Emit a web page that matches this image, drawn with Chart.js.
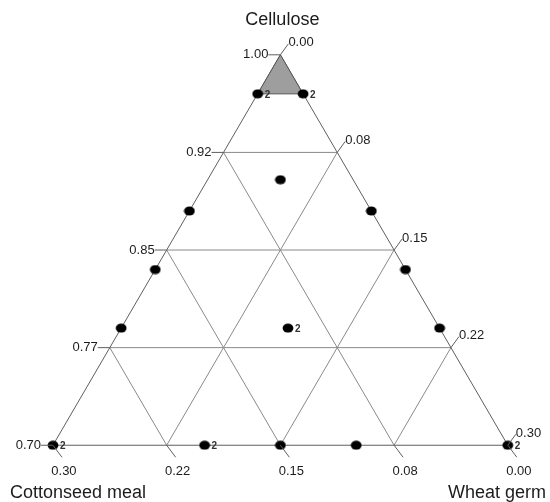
<!DOCTYPE html>
<html>
<head>
<meta charset="utf-8" />
<title>Mixture design</title>
<script src="https://cdn.jsdelivr.net/npm/chart.js"></script>
<style>body { margin: 0; background: #fff; }</style>
</head>
<body>
<canvas id="ternary" width="550" height="502"></canvas>
<script>
  // design points, as proportions of each component
  const cellulose  = [0.97, 0.97, 0.88, 0.835, 0.79, 0.88, 0.835, 0.79, 0.904, 0.79, 0.70, 0.70, 0.70, 0.70, 0.70];
  const cottonseed = [0.03, 0.00, 0.12, 0.165, 0.21, 0.00, 0.00, 0.00, 0.048, 0.10, 0.30, 0.20, 0.15, 0.10, 0.00];
  const wheatGerm  = [0.00, 0.03, 0.00, 0.00, 0.00, 0.12, 0.165, 0.21, 0.048, 0.11, 0.00, 0.10, 0.15, 0.20, 0.30];
  const replicates = [2, 2, 1, 1, 1, 1, 1, 1, 1, 2, 2, 2, 1, 1, 2];

  // shaded corner region
  const regionCell = [1.00, 0.97, 0.97];
  const regionMeal = [0.00, 0.03, 0.00];
  const regionGerm = [0.00, 0.00, 0.03];

  // grid levels and tick labels
  const cellLevels = [1.00, 0.925, 0.85, 0.775, 0.70];
  const cellTicks = ["1.00", "0.92", "0.85", "0.77", "0.70"];
  const germTicks = ["0.00", "0.08", "0.15", "0.22", "0.30"];
  const mealTicks = ["0.30", "0.22", "0.15", "0.08", "0.00"];
  const titles = ["Cellulose", "Cottonseed meal", "Wheat germ"];

  // pseudo-components (0.70..1.00 cellulose) -> plane
  function toXY(c, m, w) {
    const cp = (c - 0.70) / 0.30;
    const wp = w / 0.30;
    return { x: wp + cp / 2, y: cp };
  }

  const GRID = "#8a8a8a";
  const EDGE = "#5e5e5e";
  const INK = "#1c1c1c";

  const lineSet = (pts, color, order) => ({
    type: "line", data: pts, borderColor: color, borderWidth: 1,
    pointRadius: 0, fill: false, tension: 0, order: order,
  });

  const datasets = [];

  // design points
  const dot = document.createElement("canvas");
  dot.width = 12; dot.height = 10;
  const dctx = dot.getContext("2d");
  dctx.fillStyle = "#000";
  dctx.beginPath();
  dctx.ellipse(6, 5, 5.4, 4.5, 0, 0, Math.PI * 2);
  dctx.fill();

  datasets.push({
    type: "scatter",
    data: cellulose.map((c, i) => toXY(c, cottonseed[i], wheatGerm[i])),
    pointStyle: dot, pointRadius: 5, order: 0,
  });

  // shaded region
  const region = regionCell.map((c, i) => toXY(c, regionMeal[i], regionGerm[i]));
  region.push(region[0]);
  datasets.push({
    type: "line", data: region, borderColor: "#555", borderWidth: 1,
    backgroundColor: "#9e9e9e", fill: "shape", pointRadius: 0, order: 1,
  });

  // outer triangle
  datasets.push(lineSet([toXY(0.70, 0.30, 0), toXY(1, 0, 0), toXY(0.70, 0, 0.30), toXY(0.70, 0.30, 0)], EDGE, 2));

  // interior grid
  for (let i = 1; i < cellLevels.length - 1; i++) {
    const c = cellLevels[i];
    const lvl = (i / 4) * 0.30;
    datasets.push(lineSet([toXY(c, 1 - c, 0), toXY(c, 0, 1 - c)], GRID, 3));
    // constant cottonseed
    const m = 0.30 - lvl;
    datasets.push(lineSet([toXY(0.70, m, 0.30 - m), toXY(1 - m, m, 0)], GRID, 3));
    // constant wheat germ
    const w = lvl;
    datasets.push(lineSet([toXY(0.70, 0.30 - w, w), toXY(1 - w, 0, w)], GRID, 3));
  }

  const labels = {
    id: "labels",
    afterDatasetsDraw(chart) {
      const { ctx, scales } = chart;
      const px = (p) => [scales.x.getPixelForValue(p.x), scales.y.getPixelForValue(p.y)];
      ctx.save();
      ctx.strokeStyle = EDGE;
      ctx.lineWidth = 1;
      ctx.fillStyle = INK;
      ctx.font = "13px 'Liberation Sans', Arial, sans-serif";

      const seg = (x1, y1, x2, y2) => {
        ctx.beginPath(); ctx.moveTo(x1, y1); ctx.lineTo(x2, y2); ctx.stroke();
      };

      cellLevels.forEach((c, i) => {
        // left edge: cellulose
        const [lx, ly] = px(toXY(c, 1 - c, 0));
        seg(lx, ly, lx - 12, ly);
        ctx.textAlign = "right"; ctx.textBaseline = "middle";
        ctx.fillText(cellTicks[i], lx - 12, ly);
        // right edge: wheat germ
        const [rx, ry] = px(toXY(c, 0, 1 - c));
        seg(rx, ry, rx + 8, ry - 11);
        ctx.textAlign = "left";
        ctx.fillText(germTicks[i], rx + 8, ry - 12);
        // bottom: cottonseed meal
        const w = (i / 4) * 0.30;
        const [bx, by] = px(toXY(0.70, 0.30 - w, w));
        seg(bx, by, bx + 9, by + 12);
        ctx.textAlign = "center";
        ctx.fillText(mealTicks[i], bx + 11, by + 26);
      });

      // replicate counts
      ctx.font = "bold 10px 'Liberation Sans', Arial, sans-serif";
      ctx.textAlign = "left"; ctx.textBaseline = "middle";
      ctx.fillStyle = "#333";
      replicates.forEach((r, i) => {
        if (r < 2) return;
        const [x, y] = px(toXY(cellulose[i], cottonseed[i], wheatGerm[i]));
        ctx.fillText(String(r), x + 7, y + 1);
      });

      // vertex titles
      ctx.fillStyle = INK;
      ctx.font = "18px 'Liberation Sans', Arial, sans-serif";
      const [tx] = px(toXY(1, 0, 0));
      ctx.textAlign = "center";
      ctx.fillText(titles[0], tx + 2, 20);
      ctx.textAlign = "left";
      ctx.fillText(titles[1], 10, 493);
      ctx.fillText(titles[2], 448, 493);
      ctx.restore();
    },
  };

  new Chart(document.getElementById("ternary"), {
    type: "scatter",
    data: { datasets: datasets },
    options: {
      responsive: false,
      animation: false,
      layout: { padding: 0 },
      plugins: { legend: { display: false }, tooltip: { enabled: false } },
      scales: {
        x: { display: false, min: -48 / 465, max: 502 / 465 },
        y: { display: false, min: -52 / 400, max: 450 / 400 },
      },
    },
    plugins: [labels],
  });
</script>
</body>
</html>
